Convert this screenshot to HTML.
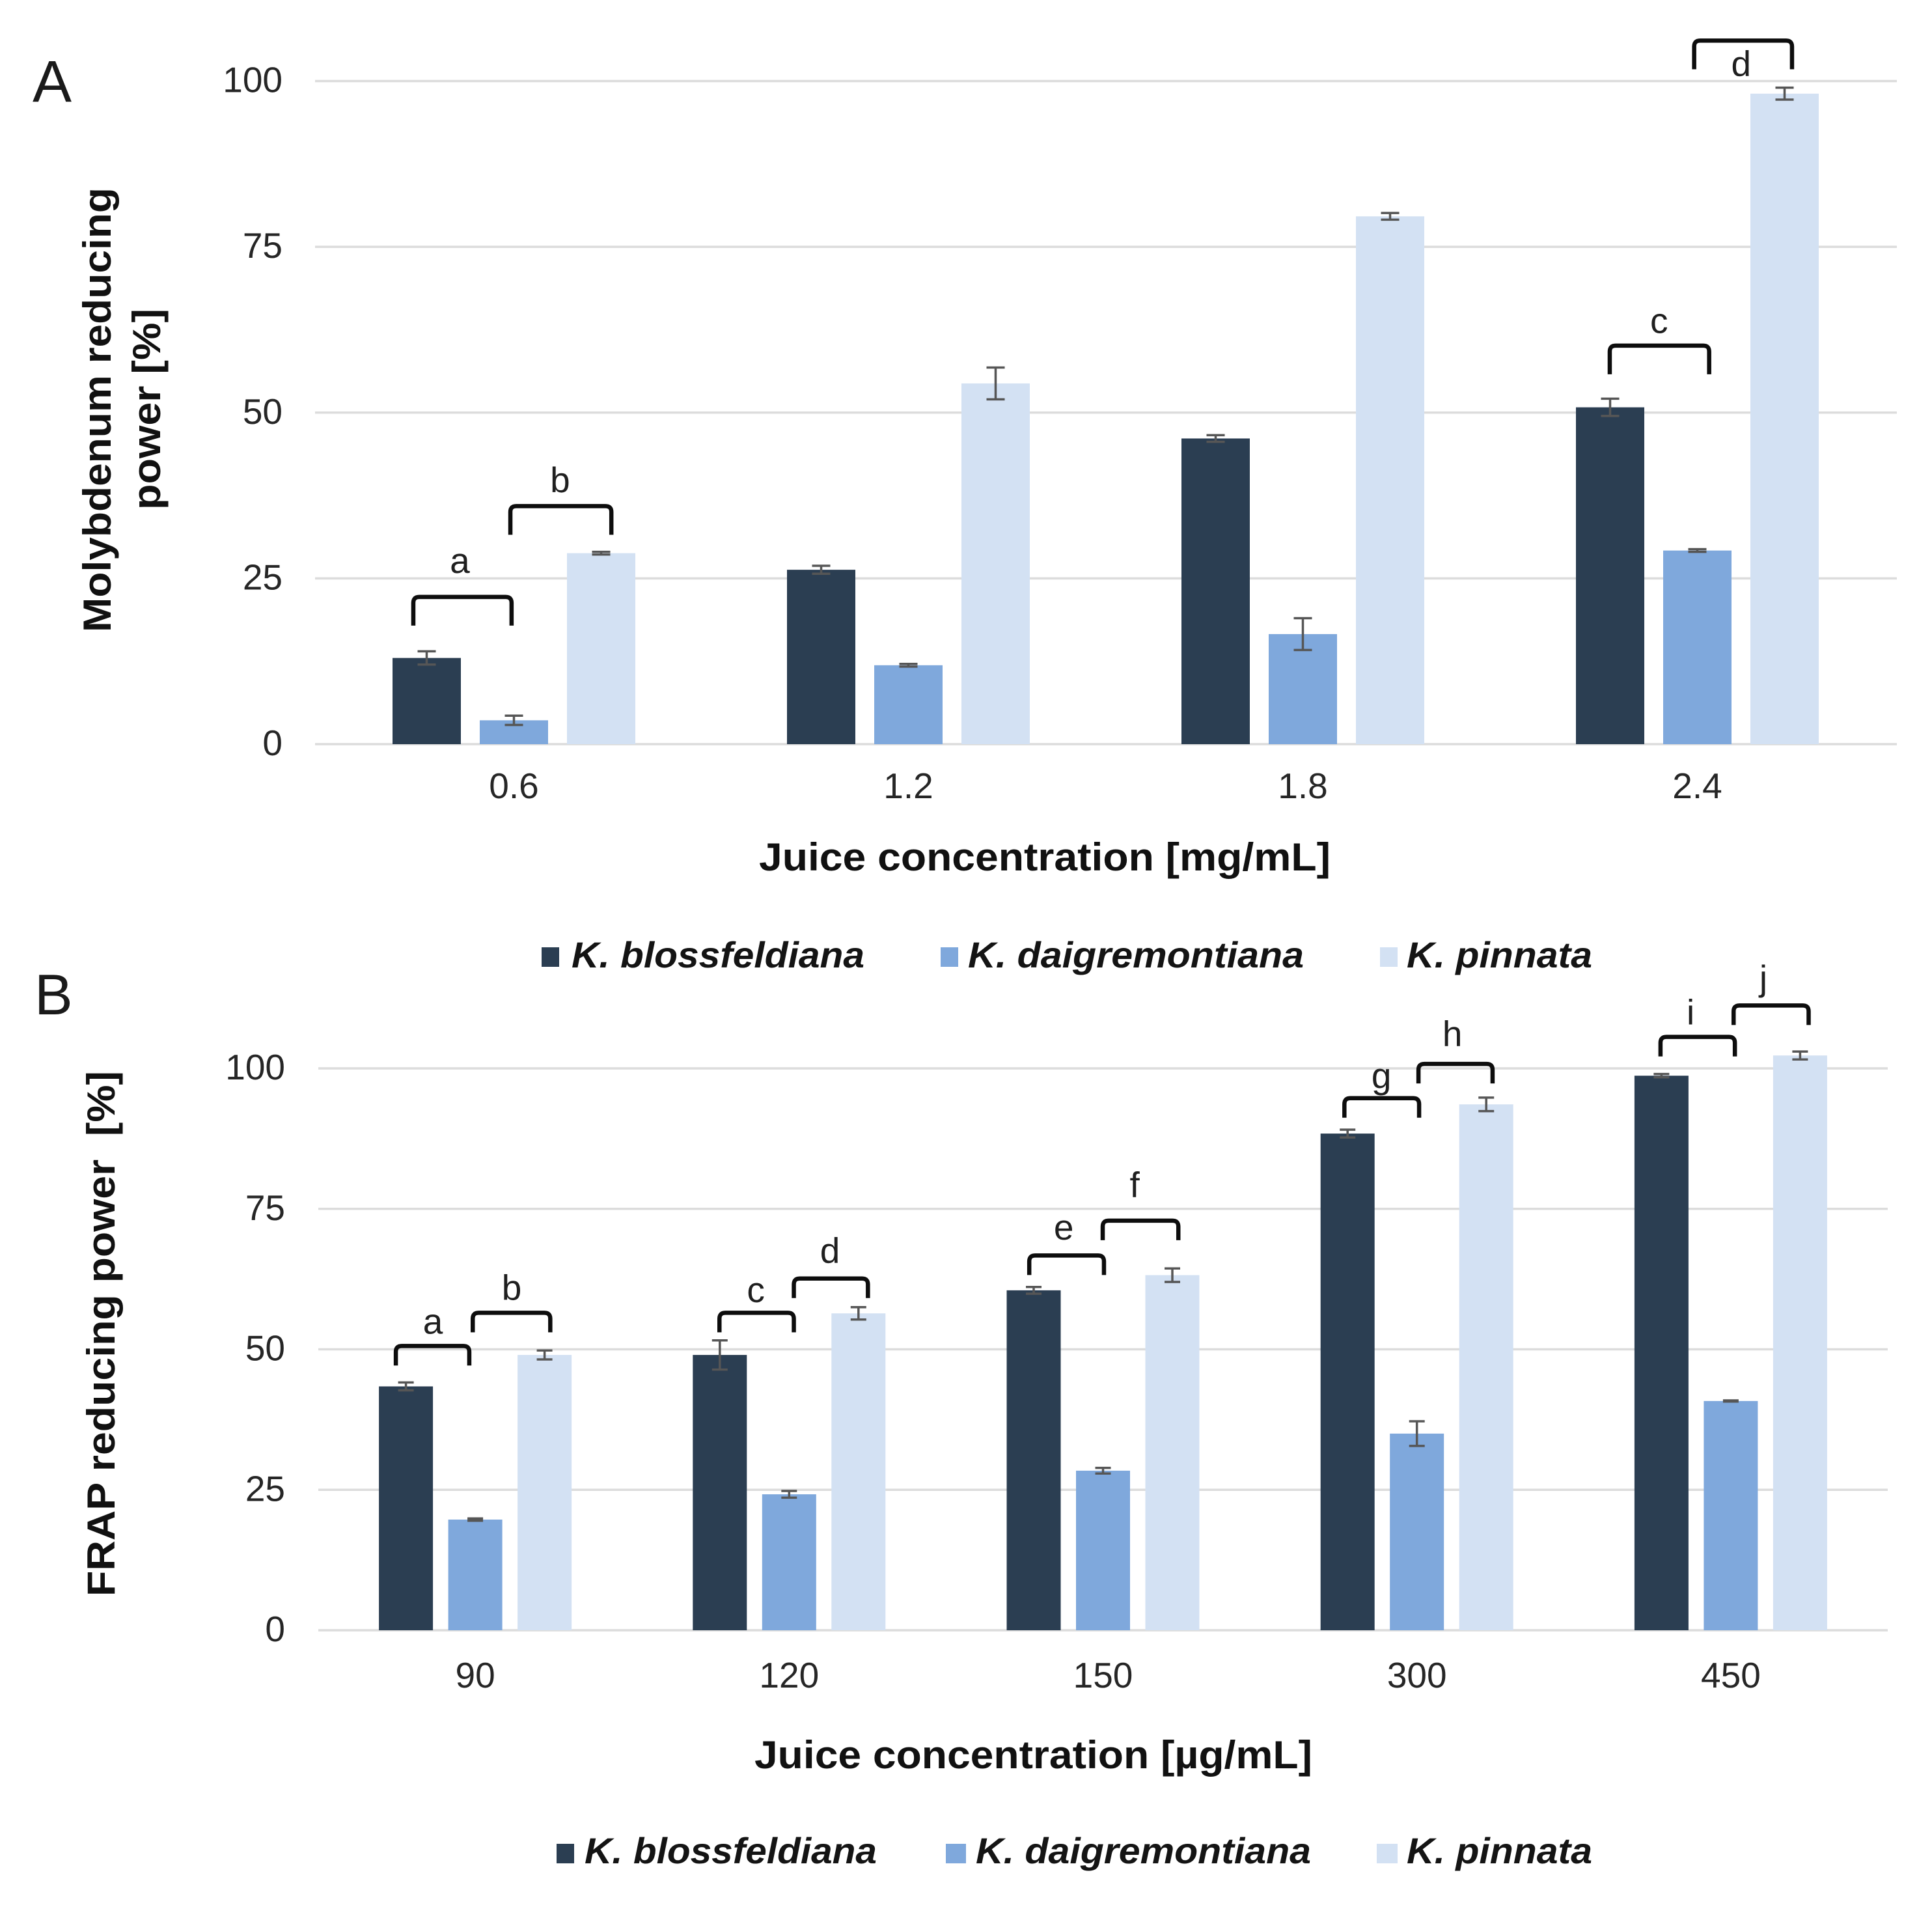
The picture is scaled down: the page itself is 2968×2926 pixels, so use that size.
<!DOCTYPE html>
<html lang="en">
<head>
<meta charset="utf-8">
<title>Reducing power of Kalanchoe juices</title>
<style>
html,body{margin:0;padding:0;background:#fff;}
svg{display:block;font-family:"Liberation Sans",sans-serif;}
.tick{font-size:55px;fill:#262626;}
.ax{font-size:60px;font-weight:bold;fill:#111111;}
.leg{font-size:56px;font-weight:bold;font-style:italic;fill:#141414;}
.pan{fill:#1a1a1a;}
.ann{font-size:55px;fill:#1f1f1f;}
</style>
</head>
<body>
<svg id="figure" xmlns="http://www.w3.org/2000/svg" width="2968" height="2926" viewBox="0 0 2968 2926">
  <rect width="2968" height="2926" fill="#ffffff"/>

  <g id="chart-a"></g>
  <g id="chart-b"></g>

  <text class="pan" x="50" y="156" font-size="90">A</text>
  <text class="pan" x="53" y="1558" font-size="88">B</text>

  <text class="ax" transform="translate(170,971) rotate(-90)" textLength="683" lengthAdjust="spacingAndGlyphs">Molybdenum reducing</text>
  <text class="ax" transform="translate(246,783) rotate(-90)" textLength="309" lengthAdjust="spacingAndGlyphs">power [%]</text>
  <text class="ax" x="1166" y="1337" textLength="878" lengthAdjust="spacingAndGlyphs">Juice concentration [mg/mL]</text>

  <text class="ax" transform="translate(176,2452) rotate(-90)" textLength="807" lengthAdjust="spacingAndGlyphs">FRAP reducing power &#160;[%]</text>
  <text class="ax" x="1159" y="2716" textLength="857" lengthAdjust="spacingAndGlyphs">Juice concentration [µg/mL]</text>

  <g>
    <rect x="832" y="1455" width="27" height="30" fill="#2b3e52"/>
    <text class="leg" x="878" y="1486" textLength="450" lengthAdjust="spacingAndGlyphs">K. blossfeldiana</text>
    <rect x="1445" y="1455" width="27" height="30" fill="#7fa8dc"/>
    <text class="leg" x="1487" y="1486" textLength="516" lengthAdjust="spacingAndGlyphs">K. daigremontiana</text>
    <rect x="2120" y="1455" width="27" height="30" fill="#d3e1f3"/>
    <text class="leg" x="2161" y="1486" textLength="285" lengthAdjust="spacingAndGlyphs">K. pinnata</text>
  </g>

  <g>
    <rect x="855" y="2832" width="27" height="30" fill="#2b3e52"/>
    <text class="leg" x="898" y="2862" textLength="449" lengthAdjust="spacingAndGlyphs">K. blossfeldiana</text>
    <rect x="1453" y="2832" width="31" height="30" fill="#7fa8dc"/>
    <text class="leg" x="1499" y="2862" textLength="515" lengthAdjust="spacingAndGlyphs">K. daigremontiana</text>
    <rect x="2115" y="2832" width="32" height="30" fill="#d3e1f3"/>
    <text class="leg" x="2161" y="2862" textLength="285" lengthAdjust="spacingAndGlyphs">K. pinnata</text>
  </g>
</svg>

<script>
var yTickValues = [0, 25, 50, 75, 100];

/* Panel A data */
var categoriesA = ['0.6', '1.2', '1.8', '2.4'];
var blossfeldianaA = [13.0, 26.3, 46.1, 50.8];
var daigremontianaA = [3.6, 11.9, 16.6, 29.2];
var pinnataA = [28.8, 54.4, 79.6, 98.1];
var blossfeldianaErrA = [1.0, 0.6, 0.5, 1.3];
var daigremontianaErrA = [0.7, 0.2, 2.4, 0.2];
var pinnataErrA = [0.2, 2.4, 0.5, 0.9];

/* Panel A significance brackets: category, span within the band, height in value units */
var bracketLabelsA = ['a', 'b', 'c', 'd'];
var bracketCategoryA = [0, 0, 3, 3];
var bracketStartA = [-0.255, -0.009, -0.222, -0.008];
var bracketEndA = [-0.006, 0.247, 0.03, 0.24];
var bracketTopA = [22.2, 35.9, 60.1, 106.1];
var bracketLabelValueA = [25.8, 38.0, 62.0, 100.8];
var bracketLabelPosA = [-0.137, 0.117, -0.097, 0.111];

/* Panel B data */
var categoriesB = ['90', '120', '150', '300', '450'];
var blossfeldianaB = [43.4, 49.0, 60.5, 88.4, 98.7];
var daigremontianaB = [19.7, 24.2, 28.4, 35.0, 40.8];
var pinnataB = [49.0, 56.4, 63.2, 93.6, 102.3];
var blossfeldianaErrB = [0.7, 2.6, 0.6, 0.7, 0.3];
var daigremontianaErrB = [0.2, 0.6, 0.5, 2.2, 0.1];
var pinnataErrB = [0.8, 1.1, 1.2, 1.2, 0.7];

/* Panel B significance brackets */
var bracketLabelsB = ['a', 'b', 'c', 'd', 'e', 'f', 'g', 'h', 'i', 'j'];
var bracketCategoryB = [0, 0, 1, 1, 2, 2, 3, 3, 4, 4];
var bracketStartB = [-0.253, -0.008, -0.222, 0.015, -0.235, -0.001, -0.231, 0.005, -0.224, 0.009];
var bracketEndB = [-0.019, 0.239, 0.015, 0.251, 0.003, 0.24, 0.007, 0.241, 0.013, 0.248];
var bracketTopB = [50.6, 56.5, 56.5, 62.6, 66.7, 72.9, 94.7, 100.8, 105.6, 111.2];
var bracketLabelValueB = [52.8, 58.8, 58.4, 65.4, 69.5, 77.1, 96.5, 104.0, 107.8, 113.9];
var bracketLabelPosB = [-0.135, 0.116, -0.106, 0.13, -0.125, 0.101, -0.113, 0.113, -0.128, 0.104];

var seriesColors = ['#2b3e52', '#7fa8dc', '#d3e1f3'];
var seriesKeys = ['blossfeldiana', 'daigremontiana', 'pinnata'];

var SVG_NS = 'http://www.w3.org/2000/svg';

function make(parent, tag, attrs, text) {
  var e = document.createElementNS(SVG_NS, tag);
  for (var k in attrs) { e.setAttribute(k, attrs[k]); }
  if (text !== undefined) { e.textContent = text; }
  parent.appendChild(e);
  return e;
}

function drawChart(root, cfg) {
  var bandW = (cfg.bandRight - cfg.bandLeft) / cfg.categories.length;
  var perUnit = (cfg.y0 - cfg.y100) / 100;
  function xCenter(i) { return cfg.bandLeft + (i + 0.5) * bandW; }
  function yPos(v) { return cfg.y0 - v * perUnit; }

  yTickValues.forEach(function (t) {
    var line = make(root, 'line', { x1: cfg.left, x2: cfg.right, y1: yPos(t), y2: yPos(t), stroke: '#dcdcdc', 'stroke-width': 3.5 });
    
    
    var lab = make(root, 'text', { 'class': 'tick', x: cfg.tickRight, y: yPos(t) + 17, 'text-anchor': 'end', style: 'font-size:' + cfg.tickSize + 'px' }, String(t));
    
    
  });

  cfg.categories.forEach(function (cat, i) {
    var lab = make(root, 'text', { 'class': 'tick', x: xCenter(i), y: cfg.xTickY, 'text-anchor': 'middle', style: 'font-size:' + cfg.tickSize + 'px' }, cat);
    
    

    cfg.series.forEach(function (values, s) {
      var v = values[i];
      var err = cfg.errors[s][i];
      var cx = xCenter(i) + (s - 1) * cfg.offset;
      var bar = make(root, 'rect', { x: cx - cfg.barW / 2, y: yPos(v), width: cfg.barW, height: cfg.y0 - yPos(v), fill: seriesColors[s] });
      
      
      var eb = make(root, 'path', {
        d: 'M' + (cx - cfg.cap) + ' ' + yPos(v + err) + 'H' + (cx + cfg.cap) +
           'M' + cx + ' ' + yPos(v + err) + 'V' + yPos(v - err) +
           'M' + (cx - cfg.cap) + ' ' + yPos(v - err) + 'H' + (cx + cfg.cap),
        fill: 'none', stroke: '#565656', 'stroke-width': 3.5
      });
      
      
    });
  });

  cfg.bracketLabels.forEach(function (label, b) {
    var c = xCenter(cfg.bracketCategory[b]);
    var x1 = c + cfg.bracketStart[b] * bandW;
    var x2 = c + cfg.bracketEnd[b] * bandW;
    var y = yPos(cfg.bracketTop[b]);
    var r = 9;
    var path = make(root, 'path', {
      d: 'M' + x1 + ' ' + (y + cfg.leg) + 'V' + (y + r) + 'Q' + x1 + ' ' + y + ' ' + (x1 + r) + ' ' + y +
         'H' + (x2 - r) + 'Q' + x2 + ' ' + y + ' ' + x2 + ' ' + (y + r) + 'V' + (y + cfg.leg),
      fill: 'none', stroke: '#0d0d0d', 'stroke-width': 6.5
    });
    
    
    var t = make(root, 'text', { 'class': 'ann', x: c + cfg.bracketLabelPos[b] * bandW, y: yPos(cfg.bracketLabelValue[b]), 'text-anchor': 'middle' }, label);
    
    
  });
}

drawChart(document.getElementById('chart-a'), {
  categories: categoriesA,
  series: [blossfeldianaA, daigremontianaA, pinnataA],
  errors: [blossfeldianaErrA, daigremontianaErrA, pinnataErrA],
  bracketLabels: bracketLabelsA,
  bracketCategory: bracketCategoryA,
  bracketStart: bracketStartA,
  bracketEnd: bracketEndA,
  bracketTop: bracketTopA,
  bracketLabelValue: bracketLabelValueA,
  bracketLabelPos: bracketLabelPosA,
  left: 484, right: 2914, bandLeft: 486.5, bandRight: 2910.5, y0: 1143, y100: 124.5,
  offset: 134, barW: 105, cap: 14, leg: 44,
  tickRight: 434, tickSize: 55, xTickY: 1226
});

drawChart(document.getElementById('chart-b'), {
  categories: categoriesB,
  series: [blossfeldianaB, daigremontianaB, pinnataB],
  errors: [blossfeldianaErrB, daigremontianaErrB, pinnataErrB],
  bracketLabels: bracketLabelsB,
  bracketCategory: bracketCategoryB,
  bracketStart: bracketStartB,
  bracketEnd: bracketEndB,
  bracketTop: bracketTopB,
  bracketLabelValue: bracketLabelValueB,
  bracketLabelPos: bracketLabelPosB,
  left: 489, right: 2900, bandLeft: 489, bandRight: 2900, y0: 2504, y100: 1641,
  offset: 106.5, barW: 83, cap: 12, leg: 30,
  tickRight: 438, tickSize: 55, xTickY: 2592
});
</script>
</body>
</html>
